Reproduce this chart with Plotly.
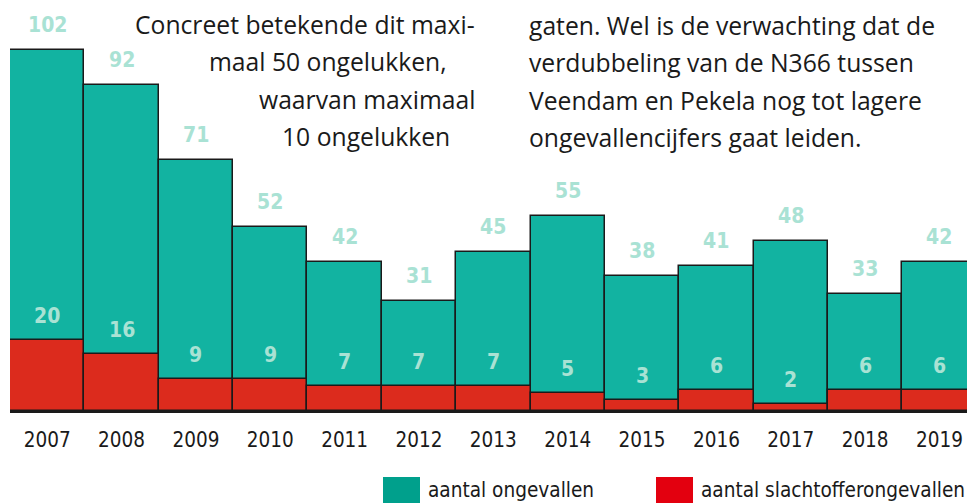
import plotly.graph_objects as go

years = [2007, 2008, 2009, 2010, 2011, 2012, 2013, 2014, 2015, 2016, 2017, 2018, 2019]
ongevallen = [102, 92, 71, 52, 42, 31, 45, 55, 38, 41, 48, 33, 42]
slachtoffer = [20, 16, 9, 9, 7, 7, 7, 5, 3, 6, 2, 6, 6]
tick_labels = [str(y) for y in years]

left_lines = ["Concreet betekende dit maxi-", "maal 50 ongelukken,", "waarvan maximaal", "10 ongelukken"]
right_lines = ["gaten. Wel is de verwachting dat de", "verdubbeling van de N366 tussen",
               "Veendam en Pekela nog tot lagere", "ongevallencijfers gaat leiden."]

TEAL = "#12b3a1"
RED = "#dc2b1d"
LABEL = "#a9e2d4"
OUTLINE = "#1a1a1a"
NARROW = "DejaVu Sans Condensed, Roboto, sans-serif"
BODY = "Open Sans, Lato, sans-serif"

W, H = 967, 503
ML, MR, MT, MB = 10, 0, 0, 92
PW = W - ML - MR
PH = H - MT - MB


def px(x):
    return (x - ML) / PW


def py(y):
    return (H - MB - y) / PH


fig = go.Figure()
fig.add_trace(go.Bar(x=years, y=ongevallen, width=1, marker=dict(color=TEAL, line=dict(color=OUTLINE, width=1.5)),
                     name="aantal ongevallen", showlegend=False, hoverinfo="x+y"))
fig.add_trace(go.Bar(x=years, y=slachtoffer, width=1, marker=dict(color=RED, line=dict(color=OUTLINE, width=1.5)),
                     name="aantal slachtofferongevallen", showlegend=False, hoverinfo="x+y"))

annotations = []
for x, v in zip(years, ongevallen):
    annotations.append(dict(x=x, y=v, xref="x", yref="y", text=str(v), showarrow=False, yshift=25,
                            font=dict(family=NARROW, size=21, color=LABEL, weight="bold")))
for x, v in zip(years, slachtoffer):
    annotations.append(dict(x=x, y=v, xref="x", yref="y", text=str(v), showarrow=False, yshift=24,
                            font=dict(family=NARROW, size=21, color=LABEL, weight="bold")))

left_x = [133, 207, 257, 280]
line_y = [24, 61, 99, 136]
for t, lx, ly in zip(left_lines, left_x, line_y):
    annotations.append(dict(x=px(lx), y=py(ly), xref="paper", yref="paper", text=t, showarrow=False,
                            xanchor="left", yanchor="middle", font=dict(family=BODY, size=24.7, color="#1a1a1a")))
for t, ly in zip(right_lines, line_y):
    annotations.append(dict(x=px(527), y=py(ly + 1), xref="paper", yref="paper", text=t, showarrow=False,
                            xanchor="left", yanchor="middle", font=dict(family=BODY, size=24.7, color="#1a1a1a")))

# legend
shapes = [
    dict(type="rect", xref="paper", yref="paper", x0=px(383), x1=px(420), y0=py(477), y1=py(503),
         fillcolor="#00a08c", line=dict(width=0)),
    dict(type="rect", xref="paper", yref="paper", x0=px(656), x1=px(693), y0=py(477), y1=py(503),
         fillcolor="#e3000f", line=dict(width=0)),
]
annotations.append(dict(x=px(426), y=py(490), xref="paper", yref="paper", text="aantal ongevallen",
                        showarrow=False, xanchor="left", yanchor="middle",
                        font=dict(family=NARROW, size=20.6, color="#1a1a1a")))
annotations.append(dict(x=px(699), y=py(490), xref="paper", yref="paper", text="aantal slachtofferongevallen",
                        showarrow=False, xanchor="left", yanchor="middle",
                        font=dict(family=NARROW, size=20.6, color="#1a1a1a")))

fig.update_layout(
    width=W, height=H, autosize=False,
    margin=dict(l=ML, r=MR, t=MT, b=MB, pad=0),
    barmode="overlay", bargap=0,
    paper_bgcolor="white", plot_bgcolor="white",
    annotations=annotations, shapes=shapes,
    xaxis=dict(range=[2006.5, 2019.37], tickvals=years, ticktext=tick_labels, showgrid=False, zeroline=False,
               showline=True, linecolor=OUTLINE, linewidth=2, ticks="outside", ticklen=9,
               tickcolor="rgba(0,0,0,0)", tickfont=dict(family=NARROW, size=20.5, color="#1a1a1a")),
    yaxis=dict(range=[0, 116.1], visible=False, showgrid=False, zeroline=False),
    showlegend=False,
)

fig.write_html("out.html", config={"displayModeBar": False},
               post_script="document.body.style.margin='0';")
